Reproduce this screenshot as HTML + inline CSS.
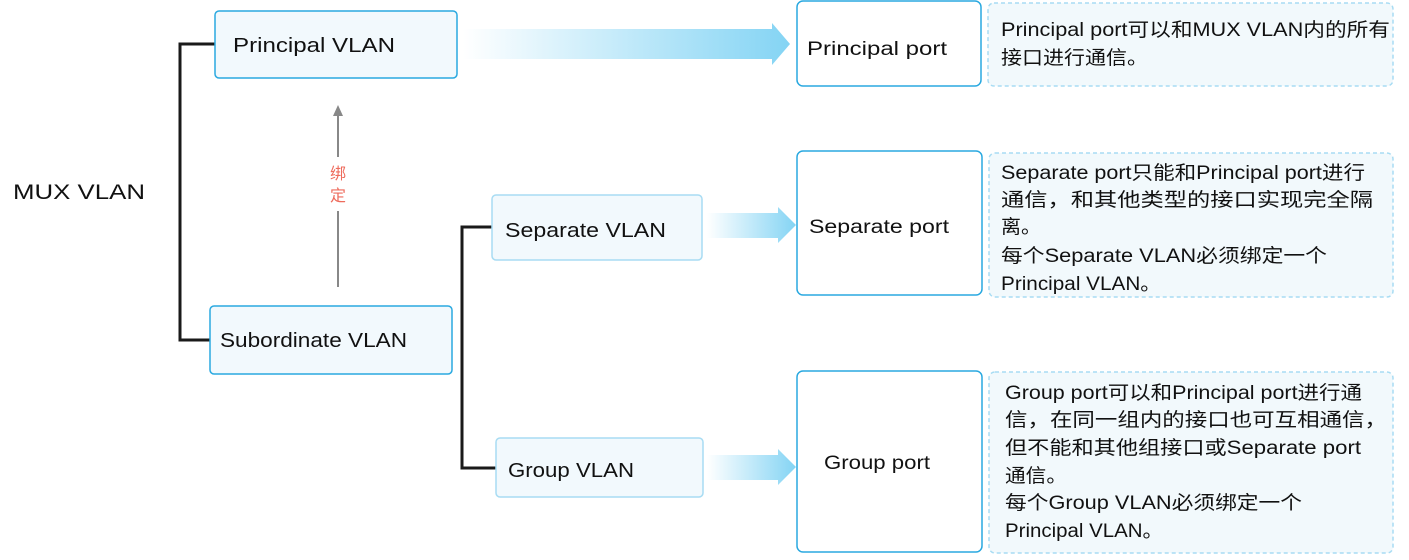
<!DOCTYPE html>
<html><head><meta charset="utf-8"><style>
html,body{margin:0;padding:0;background:#fff;}
svg text{font-family:"Liberation Sans","Noto Sans CJK SC",sans-serif;fill:#111;}
</style></head><body>
<svg width="1409" height="555" viewBox="0 0 1409 555" xmlns="http://www.w3.org/2000/svg">
<defs>
<linearGradient id="g" x1="0" x2="1" y1="0" y2="0">
<stop offset="0" stop-color="#fff"/><stop offset="1" stop-color="#84d4f4"/>
</linearGradient>
</defs>
<path d="M215,44 H180 V340 H210" fill="none" stroke="#1a1a1a" stroke-width="3"/>
<path d="M492,227 H462 V468 H496" fill="none" stroke="#1a1a1a" stroke-width="3"/>
<text x="13" y="199" font-size="21" textLength="132" lengthAdjust="spacingAndGlyphs">MUX VLAN</text>
<line x1="338" y1="287" x2="338" y2="115" stroke="#888" stroke-width="2"/>
<path d="M333,116 L338,105 L343,116 z" fill="#888"/>
<rect x="325" y="157" width="26" height="54" fill="#fff"/>
<text x="338" y="179" font-size="16" text-anchor="middle" style="fill:#ee6b5c">绑</text>
<text x="338" y="201" font-size="16" text-anchor="middle" style="fill:#ee6b5c">定</text>
<rect x="215" y="11" width="242" height="67" rx="4" fill="#f2f9fd" stroke="#2aa9e0" stroke-width="1.5"/>
<text x="233" y="52" font-size="20" textLength="162" lengthAdjust="spacingAndGlyphs">Principal VLAN</text>
<rect x="210" y="306" width="242" height="68" rx="4" fill="#f2f9fd" stroke="#2aa9e0" stroke-width="1.5"/>
<text x="220" y="347" font-size="20" textLength="187" lengthAdjust="spacingAndGlyphs">Subordinate VLAN</text>
<rect x="492" y="195" width="210" height="65" rx="4" fill="#f2f9fd" stroke="#a8dcf3" stroke-width="1.5"/>
<text x="505" y="237" font-size="20" textLength="161" lengthAdjust="spacingAndGlyphs">Separate VLAN</text>
<rect x="496" y="438" width="207" height="59" rx="4" fill="#f2f9fd" stroke="#a8dcf3" stroke-width="1.5"/>
<text x="508" y="477" font-size="20" textLength="126" lengthAdjust="spacingAndGlyphs">Group VLAN</text>
<path d="M463,29 H772 V23 L790,44 L772,65 V59 H463 z" fill="url(#g)"/>
<path d="M707,213 H778 V207 L796,225 L778,243 V238 H707 z" fill="url(#g)"/>
<path d="M707,455 H778 V449 L796,467 L778,485 V480 H707 z" fill="url(#g)"/>
<rect x="797" y="1" width="184" height="85" rx="6" fill="#fff" stroke="#2aa9e0" stroke-width="1.5"/>
<text x="807" y="55" font-size="19" textLength="140" lengthAdjust="spacingAndGlyphs">Principal port</text>
<rect x="797" y="151" width="185" height="144" rx="6" fill="#fff" stroke="#2aa9e0" stroke-width="1.5"/>
<text x="809" y="233" font-size="19" textLength="140" lengthAdjust="spacingAndGlyphs">Separate port</text>
<rect x="797" y="371" width="185" height="181" rx="6" fill="#fff" stroke="#2aa9e0" stroke-width="1.5"/>
<text x="824" y="469" font-size="19" textLength="106" lengthAdjust="spacingAndGlyphs">Group port</text>
<rect x="988" y="3" width="405" height="83" rx="6" fill="#f2f9fc" stroke="#a8dcf3" stroke-width="1.5" stroke-dasharray="4,3"/>
<g font-size="19">
<text x="1001" y="36" textLength="389" lengthAdjust="spacingAndGlyphs">Principal port可以和MUX VLAN内的所有</text>
<text x="1001" y="64" textLength="147" lengthAdjust="spacingAndGlyphs">接口进行通信。</text>
</g>
<rect x="989" y="153" width="404" height="144" rx="6" fill="#f2f9fc" stroke="#a8dcf3" stroke-width="1.5" stroke-dasharray="4,3"/>
<g font-size="19">
<text x="1001" y="179" textLength="364" lengthAdjust="spacingAndGlyphs">Separate port只能和Principal port进行</text>
<text x="1001" y="206" textLength="372" lengthAdjust="spacingAndGlyphs">通信，和其他类型的接口实现完全隔</text>
<text x="1001" y="233" textLength="40" lengthAdjust="spacingAndGlyphs">离。</text>
<text x="1001" y="262" textLength="326" lengthAdjust="spacingAndGlyphs">每个Separate VLAN必须绑定一个</text>
<text x="1001" y="290" textLength="160" lengthAdjust="spacingAndGlyphs">Principal VLAN。</text>
</g>
<rect x="989" y="372" width="404" height="181" rx="6" fill="#f2f9fc" stroke="#a8dcf3" stroke-width="1.5" stroke-dasharray="4,3"/>
<g font-size="19">
<text x="1005" y="399" textLength="357" lengthAdjust="spacingAndGlyphs">Group port可以和Principal port进行通</text>
<text x="1005" y="426" textLength="382" lengthAdjust="spacingAndGlyphs">信，在同一组内的接口也可互相通信，</text>
<text x="1005" y="454" textLength="356" lengthAdjust="spacingAndGlyphs">但不能和其他组接口或Separate port</text>
<text x="1005" y="482" textLength="62" lengthAdjust="spacingAndGlyphs">通信。</text>
<text x="1005" y="509" textLength="297" lengthAdjust="spacingAndGlyphs">每个Group VLAN必须绑定一个</text>
<text x="1005" y="537" textLength="158" lengthAdjust="spacingAndGlyphs">Principal VLAN。</text>
</g>
</svg>
</body></html>
